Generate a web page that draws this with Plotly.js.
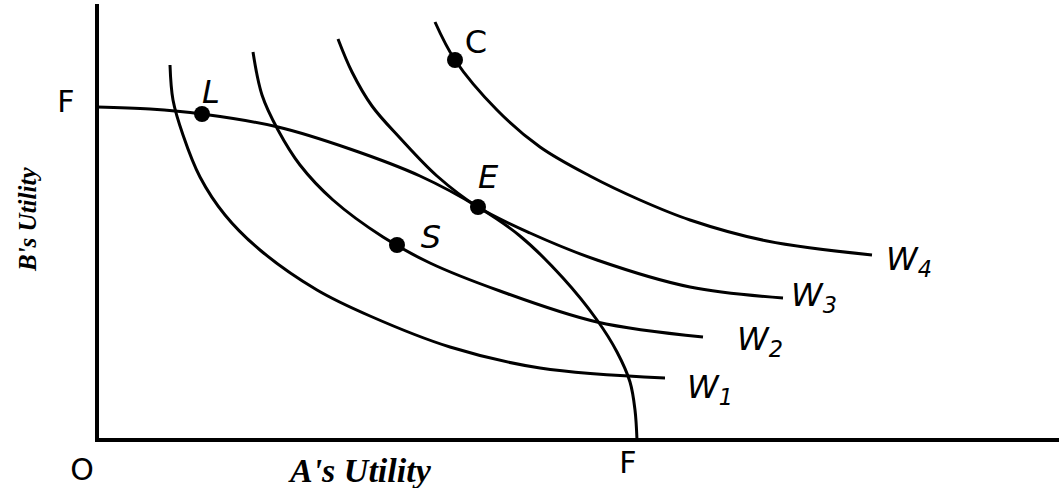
<!DOCTYPE html>
<html>
<head>
<meta charset="utf-8">
<script src="https://cdn.plot.ly/plotly-3.0.1.min.js"></script>
<style>html,body{margin:0;padding:0;background:#fff;}#chart{width:1059px;height:488px;}</style>
</head>
<body>
<div id="chart"></div>
<script>
// Utility possibility frontier F–F (A's utility, B's utility)
const frontierA = [0, 53, 105, 181, 253, 323, 381, 423, 466, 500, 520, 533, 538, 540];
const frontierB = [333, 331, 326, 313, 291, 264, 233, 204, 162, 120, 88, 58, 30, 0];

// Social welfare (indifference) curves
const w1A = [73, 76, 86, 103, 128, 163, 220, 273, 353, 443, 568];
const w1B = [375, 340, 305, 263, 225, 190, 150, 124, 93, 72, 62];
const w2A = [156, 165, 181, 203, 236, 286, 333, 403, 500, 606];
const w2B = [388, 345, 310, 275, 240, 203, 177, 149, 118, 103];
const w3A = [241, 255, 275, 303, 340, 381, 433, 500, 593, 686];
const w3B = [401, 368, 334, 302, 264, 233, 207, 180, 153, 142];
const w4A = [338, 358, 400, 443, 493, 543, 593, 670, 775];
const w4B = [418, 380, 330, 293, 264, 240, 220, 199, 185];

// Named points
const pointNames = ["L", "S", "E", "C"];
const pointA = [105, 300, 381, 358];
const pointB = [326, 195, 233, 380];
const pointLabelA = [114, 334, 391, 379];
const pointLabelB = [345, 200, 260, 395];

// Curve labels
const curveLabels = ["W<sub>1</sub>", "W<sub>2</sub>", "W<sub>3</sub>", "W<sub>4</sub>"];
const curveLabelA = [590, 640, 694, 789];
const curveLabelB = [50, 98, 142, 178];

// Axis end labels
const frontierLabels = ["F", "F", "O"];
const frontierLabelA = [-31, 531, -15];
const frontierLabelB = [336, -25, -32];

const lineStyle = {color: "#000", width: 3, shape: "spline", smoothing: 1};
const traces = [
  {x: frontierA, y: frontierB, mode: "lines", line: lineStyle, hoverinfo: "skip"},
  {x: w1A, y: w1B, mode: "lines", line: lineStyle, hoverinfo: "skip"},
  {x: w2A, y: w2B, mode: "lines", line: lineStyle, hoverinfo: "skip"},
  {x: w3A, y: w3B, mode: "lines", line: lineStyle, hoverinfo: "skip"},
  {x: w4A, y: w4B, mode: "lines", line: lineStyle, hoverinfo: "skip"},
  {x: pointA, y: pointB, mode: "markers", marker: {color: "#000", size: 16}, hoverinfo: "skip"},
  {x: pointLabelA.slice(0, 3), y: pointLabelB.slice(0, 3), text: pointNames.slice(0, 3), mode: "text",
   textposition: "middle center", textfont: {family: "DejaVu Sans", size: 32, color: "#000", style: "italic"}, hoverinfo: "skip"},
  {x: pointLabelA.slice(3), y: pointLabelB.slice(3), text: pointNames.slice(3), mode: "text",
   textposition: "middle center", textfont: {family: "DejaVu Sans", size: 32, color: "#000"}, hoverinfo: "skip"},
  {x: curveLabelA, y: curveLabelB, text: curveLabels, mode: "text",
   textposition: "middle right", textfont: {family: "DejaVu Sans", size: 32, color: "#000", style: "italic"}, hoverinfo: "skip"},
  {x: frontierLabelA, y: frontierLabelB, text: frontierLabels, mode: "text",
   textposition: "middle center", textfont: {family: "DejaVu Sans", size: 30, color: "#000"}, hoverinfo: "skip"}
];

const layout = {
  width: 1059, height: 488,
  margin: {l: 0, r: 0, t: 0, b: 0},
  paper_bgcolor: "#fff", plot_bgcolor: "#fff",
  showlegend: false,
  xaxis: {range: [-97, 962], visible: false, fixedrange: true},
  yaxis: {range: [-48, 440], visible: false, fixedrange: true},
  shapes: [
    {type: "line", xref: "x", yref: "y", x0: 0, x1: 0, y0: -2, y1: 436, line: {color: "#000", width: 4}},
    {type: "line", xref: "x", yref: "y", x0: -2, x1: 962, y0: 0, y1: 0, line: {color: "#000", width: 4}}
  ],
  annotations: [
    {x: 263, y: -30, xref: "x", yref: "y", text: "<b><i>A's Utility</i></b>", showarrow: false,
     font: {family: "Liberation Serif", size: 34, color: "#000"}},
    {x: -70, y: 220, xref: "x", yref: "y", text: "<b><i>B's Utility</i></b>", showarrow: false, textangle: -90,
     font: {family: "Liberation Serif", size: 25, color: "#000"}}
  ]
};

Plotly.newPlot("chart", traces, layout, {staticPlot: true, displayModeBar: false});
</script>
</body>
</html>
